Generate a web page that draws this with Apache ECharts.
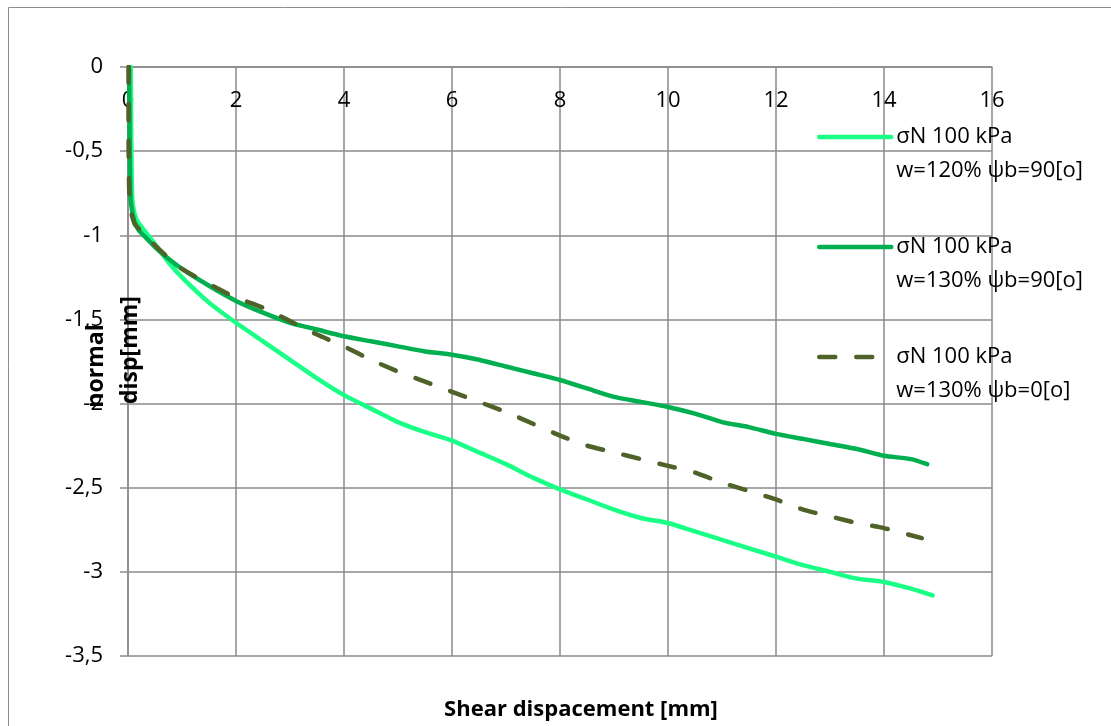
<!DOCTYPE html>
<html>
<head>
<meta charset="utf-8">
<script src="https://cdn.jsdelivr.net/npm/echarts@6/dist/echarts.min.js"></script>
<style>
  html, body { margin: 0; padding: 0; background: #ffffff; }
  #chart { width: 1111px; height: 726px; }
</style>
</head>
<body>
<div id="chart"></div>
<script>
// Axis ticks
const xTicks = [0, 2, 4, 6, 8, 10, 12, 14, 16];
const yTicks = [0, -0.5, -1, -1.5, -2, -2.5, -3, -3.5];

// Series names (legend entries)
const seriesNames = [
  'σN 100 kPa\nw=120% ψb=90[o]',
  'σN 100 kPa\nw=130% ψb=90[o]',
  'σN 100 kPa\nw=130% ψb=0[o]'
];

// Shear displacement [mm] / normal displacement [mm]
const shear1 = [0.05, 0.06, 0.07, 0.09, 0.15, 0.25, 0.47, 0.75, 1, 1.5, 2, 2.5, 3, 3.5, 4, 4.5, 5, 5.5, 6, 6.5, 7, 7.5, 8, 8.5, 9, 9.5, 10, 10.5, 11, 11.5, 12, 12.5, 13, 13.5, 14, 14.5, 14.9];
const normal1 = [0, -0.4, -0.7, -0.82, -0.9, -0.95, -1.04, -1.16, -1.25, -1.4, -1.52, -1.63, -1.74, -1.85, -1.95, -2.03, -2.11, -2.17, -2.22, -2.29, -2.36, -2.44, -2.51, -2.57, -2.63, -2.68, -2.71, -2.76, -2.81, -2.86, -2.91, -2.96, -3.0, -3.04, -3.06, -3.1, -3.14];

const shear2 = [0.02, 0.03, 0.04, 0.06, 0.12, 0.2, 0.35, 0.5, 0.75, 1, 1.5, 2, 2.5, 3, 3.5, 4, 4.5, 5, 5.5, 6, 6.5, 7, 7.5, 8, 8.5, 9, 9.5, 10, 10.5, 11, 11.5, 12, 12.5, 13, 13.5, 14, 14.5, 14.8];
const normal2 = [0, -0.4, -0.7, -0.82, -0.92, -0.97, -1.02, -1.07, -1.14, -1.2, -1.3, -1.39, -1.46, -1.52, -1.56, -1.6, -1.63, -1.66, -1.69, -1.71, -1.74, -1.78, -1.82, -1.86, -1.91, -1.96, -1.99, -2.02, -2.06, -2.11, -2.14, -2.18, -2.21, -2.24, -2.27, -2.31, -2.33, -2.36];

const shear3 = [0.01, 0.01, 0.02, 0.04, 0.12, 0.2, 0.35, 0.5, 0.8, 1, 1.5, 2, 2.5, 3, 3.5, 4, 4.5, 5, 5.5, 6, 6.5, 7, 7.5, 8, 8.5, 9, 9.5, 10, 10.5, 11, 11.5, 12, 12.5, 13, 13.5, 14, 14.7];
const normal3 = [0, -0.4, -0.7, -0.84, -0.93, -0.96, -1.01, -1.06, -1.15, -1.2, -1.29, -1.37, -1.43, -1.51, -1.59, -1.66, -1.74, -1.81, -1.87, -1.93, -1.99, -2.05, -2.12, -2.19, -2.25, -2.29, -2.33, -2.37, -2.41, -2.47, -2.52, -2.57, -2.63, -2.67, -2.71, -2.74, -2.8];

const colors = ['#1aff85', '#00b050', '#4f6228'];
const dashPattern = [16, 21];

function pairs(xs, ys) {
  return xs.map((x, i) => [x, ys[i]]);
}

const FONT = '"Open Sans", "Noto Sans", sans-serif';
const GRID_COLOR = '#8a8a8a';

const chart = echarts.init(document.getElementById('chart'), null, { renderer: 'canvas' });

const lineSeries = [
  { data: pairs(shear1, normal1), color: colors[0], type: 'solid' },
  { data: pairs(shear2, normal2), color: colors[1], type: 'solid' },
  { data: pairs(shear3, normal3), color: colors[2], type: dashPattern }
].map((s, i) => ({
  name: seriesNames[i],
  type: 'line',
  data: s.data,
  symbol: 'none',
  smooth: 0.2,
  animation: false,
  itemStyle: { color: s.color },
  lineStyle: { color: s.color, width: 4.5, type: s.type, cap: 'round', join: 'round' }
}));

chart.setOption({
  backgroundColor: '#ffffff',
  animation: false,
  grid: { left: 128, top: 67, right: 119, bottom: 70, containLabel: false },
  xAxis: {
    type: 'value',
    min: xTicks[0],
    max: xTicks[xTicks.length - 1],
    interval: xTicks[1] - xTicks[0],
    position: 'top',
    axisLine: { onZero: false, lineStyle: { color: GRID_COLOR, width: 1.5 } },
    axisTick: { show: false },
    axisLabel: { inside: true, color: '#000', fontFamily: FONT, fontSize: 22, margin: 23 },
    splitLine: { show: true, lineStyle: { color: GRID_COLOR, width: 1.5 } }
  },
  yAxis: {
    type: 'value',
    min: yTicks[yTicks.length - 1],
    max: yTicks[0],
    interval: yTicks[0] - yTicks[1],
    axisLine: { show: true, onZero: false, lineStyle: { color: GRID_COLOR, width: 1.5 } },
    axisTick: { show: true, inside: false, length: 8, lineStyle: { color: GRID_COLOR, width: 1.5 } },
    axisLabel: {
      color: '#000', fontFamily: FONT, fontSize: 22, margin: 25,
      formatter: v => String(v).replace('.', ',')
    },
    splitLine: { show: true, lineStyle: { color: GRID_COLOR, width: 1.5 } }
  },
  legend: {
    orient: 'vertical',
    left: 817,
    top: 86,
    padding: 0,
    itemWidth: 72,
    itemHeight: 2,
    itemGap: 8,
    selectedMode: false,
    formatter: name => ' \n' + name,
    textStyle: { color: '#000', fontFamily: FONT, fontSize: 22, lineHeight: 34 },
    data: seriesNames.map((n, i) => ({
      name: n,
      itemStyle: { opacity: 0 },
      lineStyle: { width: 4.5, color: colors[i], type: i === 2 ? dashPattern : 'solid', cap: 'round', opacity: 1 }
    }))
  },
  graphic: [
    {
      type: 'rect',
      shape: { x: 8.5, y: 7.5, width: 1200, height: 800 },
      style: { fill: 'none', stroke: '#8c8c8c', lineWidth: 1 },
      silent: true
    },
    {
      type: 'text',
      x: 581, y: 710,
      style: {
        text: 'Shear dispacement [mm]',
        font: 'bold 22px ' + FONT,
        fill: '#000',
        align: 'center', verticalAlign: 'middle',
        textAlign: 'center', textVerticalAlign: 'middle'
      },
      z: 100
    },
    {
      type: 'text',
      x: 96, y: 366,
      rotation: Math.PI / 2,
      style: {
        text: 'normal',
        font: 'bold 23px ' + FONT,
        fill: '#000',
        align: 'center', verticalAlign: 'middle',
        textAlign: 'center', textVerticalAlign: 'middle'
      },
      z: 100
    },
    {
      type: 'text',
      x: 130, y: 350,
      rotation: Math.PI / 2,
      style: {
        text: 'disp[mm]',
        font: 'bold 23px ' + FONT,
        fill: '#000',
        align: 'center', verticalAlign: 'middle',
        textAlign: 'center', textVerticalAlign: 'middle'
      },
      z: 100
    }
  ],
  series: lineSeries
});
</script>
</body>
</html>
